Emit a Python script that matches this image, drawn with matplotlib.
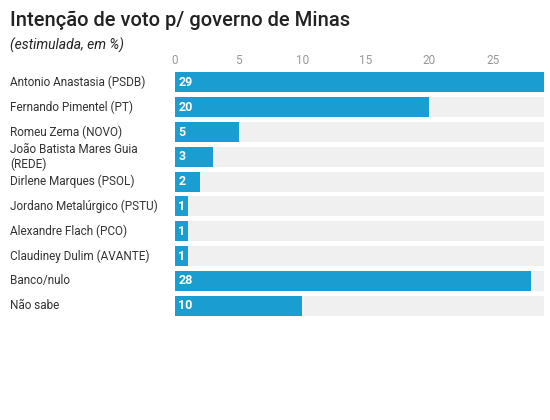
import matplotlib.pyplot as plt
from matplotlib.transforms import blended_transform_factory

candidates = ["Antonio Anastasia (PSDB)", "Fernando Pimentel (PT)", "Romeu Zema (NOVO)",
              "João Batista Mares Guia\n(REDE)", "Dirlene Marques (PSOL)",
              "Jordano Metalúrgico (PSTU)", "Alexandre Flach (PCO)",
              "Claudiney Dulim (AVANTE)", "Banco/nulo", "Não sabe"]
votes = [29, 20, 5, 3, 2, 1, 1, 1, 28, 10]
ticks = [0, 5, 10, 15, 20, 25]
xmax = 29

plt.rcParams['font.family'] = ['Roboto', 'DejaVu Sans']
fig = plt.figure(figsize=(5.5, 4.2), dpi=100)
ax = fig.add_axes([175/550, 1-318/420, 369/550, (318-70)/420])

y = list(range(len(votes)))
ax.barh(y, [xmax]*len(votes), height=0.8, color='#f0f0f0')
ax.barh(y, votes, height=0.8, color='#1a9dd0')
for i, v in enumerate(votes):
    ax.text(0.25, i, str(v), color='white', fontsize=9, fontweight='bold', va='center', ha='left')

trans = blended_transform_factory(fig.transFigure, ax.transData)
for i, name in enumerate(candidates):
    ax.text(10/550, i, name, transform=trans, fontsize=8.5, color='#333333',
            ha='left', va='center', linespacing=1.1)

ax.set_xlim(0, xmax)
ax.set_ylim(len(votes) - 0.5, -0.5)
ax.set_yticks([])
ax.xaxis.tick_top()
ax.set_xticks(ticks)
ax.tick_params(axis='x', length=0, labelsize=8.5, labelcolor='#999999', pad=2)
for s in ax.spines.values():
    s.set_visible(False)

fig.text(10/550, 1-20/420, "Intenção de voto p/ governo de Minas", fontsize=14.5,
         fontweight='medium', color='#222222', va='center')
fig.text(10/550, 1-45/420, "(estimulada, em %)", fontsize=10, fontstyle='italic',
         color='#222222', va='center')

fig.savefig('out.png', dpi=100)
